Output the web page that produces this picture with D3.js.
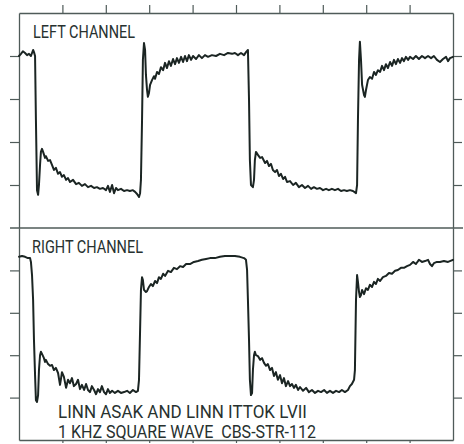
<!DOCTYPE html>
<html>
<head>
<meta charset="utf-8">
<script src="https://cdn.jsdelivr.net/npm/d3@7"></script>
<style>
  body { margin: 0; background: #fff; }
  svg { display: block; }
  text { white-space: pre; }
</style>
</head>
<body>
<div id="chart"></div>
<script>
// time in microseconds (200 us / division), amplitude in divisions from panel centre
const leftTime = [0, 9, 18, 28, 37, 46, 55, 60, 65, 69, 74, 78, 83, 88, 92, 97, 101, 106, 111, 120, 124, 134, 143, 152, 161, 170, 180, 189, 198, 207, 217, 226, 235, 249, 263, 276, 290, 304, 318, 332, 346, 359, 373, 387, 401, 410, 419, 429, 438, 447, 456, 470, 484, 498, 511, 525, 535, 544, 553, 558, 562, 567, 571, 576, 581, 585, 590, 594, 599, 604, 613, 622, 627, 636, 645, 654, 664, 673, 682, 691, 700, 710, 719, 728, 737, 747, 756, 765, 774, 783, 793, 802, 816, 829, 843, 857, 871, 889, 908, 926, 945, 963, 982, 995, 1009, 1023, 1037, 1046, 1055, 1060, 1064, 1069, 1078, 1083, 1087, 1092, 1101, 1111, 1120, 1134, 1143, 1152, 1161, 1170, 1180, 1189, 1198, 1207, 1217, 1226, 1235, 1249, 1263, 1276, 1290, 1304, 1318, 1332, 1346, 1359, 1373, 1387, 1401, 1415, 1428, 1442, 1456, 1470, 1484, 1498, 1511, 1525, 1539, 1553, 1558, 1562, 1567, 1571, 1576, 1581, 1590, 1594, 1599, 1608, 1617, 1627, 1636, 1645, 1654, 1664, 1673, 1682, 1691, 1700, 1710, 1719, 1728, 1737, 1746, 1756, 1765, 1774, 1783, 1793, 1802, 1816, 1829, 1843, 1857, 1871, 1885, 1899, 1912, 1926, 1940, 1954, 1968, 1977, 1986, 2000];
const leftVolts = [1.50, 1.55, 1.61, 1.57, 1.52, 1.55, 1.50, 1.57, 1.64, 1.59, 1.50, 0.01, -1.62, -1.73, -1.50, -1.03, -0.73, -0.66, -0.73, -0.87, -0.83, -0.94, -0.92, -1.03, -1.15, -1.10, -1.24, -1.20, -1.31, -1.27, -1.38, -1.34, -1.43, -1.38, -1.48, -1.45, -1.52, -1.48, -1.55, -1.52, -1.57, -1.55, -1.59, -1.57, -1.62, -1.52, -1.66, -1.50, -1.69, -1.57, -1.62, -1.59, -1.64, -1.62, -1.64, -1.62, -1.66, -1.71, -1.78, -1.69, -1.38, 0.01, 1.41, 1.80, 1.64, 1.06, 0.71, 0.55, 0.64, 0.83, 0.94, 1.03, 0.97, 1.13, 1.08, 1.24, 1.17, 1.34, 1.22, 1.38, 1.27, 1.43, 1.31, 1.45, 1.34, 1.48, 1.36, 1.50, 1.38, 1.52, 1.41, 1.50, 1.43, 1.52, 1.45, 1.52, 1.48, 1.52, 1.50, 1.55, 1.52, 1.57, 1.55, 1.57, 1.52, 1.57, 1.52, 1.59, 1.64, 0.48, -0.92, -1.50, -1.55, -1.38, -0.92, -0.73, -0.80, -0.87, -0.85, -0.99, -0.94, -1.06, -1.01, -1.15, -1.20, -1.15, -1.29, -1.24, -1.36, -1.31, -1.43, -1.41, -1.50, -1.45, -1.55, -1.50, -1.57, -1.52, -1.59, -1.55, -1.59, -1.57, -1.62, -1.59, -1.62, -1.59, -1.62, -1.59, -1.64, -1.62, -1.64, -1.62, -1.64, -1.69, -1.50, 0.01, 1.41, 1.83, 1.41, 0.83, 0.59, 0.55, 0.71, 0.94, 1.01, 0.97, 1.13, 1.06, 1.17, 1.13, 1.27, 1.17, 1.31, 1.22, 1.36, 1.27, 1.41, 1.31, 1.43, 1.34, 1.45, 1.38, 1.48, 1.41, 1.48, 1.43, 1.50, 1.43, 1.50, 1.45, 1.50, 1.45, 1.50, 1.41, 1.36, 1.43, 1.48, 1.38, 1.45, 1.48];

const rightTime = [0, 14, 28, 41, 51, 55, 60, 65, 69, 74, 78, 83, 88, 92, 97, 101, 106, 115, 120, 124, 134, 143, 152, 161, 170, 180, 189, 194, 198, 207, 217, 226, 235, 244, 253, 263, 272, 281, 290, 300, 309, 318, 327, 336, 346, 355, 364, 373, 382, 392, 401, 410, 419, 429, 442, 456, 470, 484, 498, 511, 525, 539, 548, 553, 558, 562, 567, 571, 576, 585, 590, 599, 608, 617, 627, 636, 645, 654, 664, 673, 687, 700, 714, 728, 742, 756, 770, 788, 806, 825, 843, 862, 880, 903, 926, 949, 972, 995, 1018, 1037, 1046, 1051, 1055, 1060, 1064, 1069, 1074, 1078, 1083, 1087, 1092, 1101, 1111, 1120, 1129, 1138, 1147, 1157, 1166, 1175, 1184, 1193, 1203, 1212, 1221, 1230, 1240, 1249, 1258, 1267, 1276, 1286, 1295, 1309, 1323, 1336, 1350, 1364, 1378, 1392, 1406, 1419, 1433, 1447, 1461, 1475, 1488, 1502, 1516, 1525, 1534, 1544, 1548, 1553, 1558, 1562, 1567, 1571, 1576, 1581, 1590, 1599, 1608, 1617, 1627, 1636, 1645, 1654, 1664, 1677, 1691, 1705, 1719, 1733, 1746, 1760, 1774, 1788, 1802, 1816, 1829, 1843, 1857, 1871, 1885, 1894, 1903, 1912, 1926, 1940, 1958, 1977, 2000];
const rightVolts = [1.82, 1.84, 1.82, 1.79, 1.79, 1.70, 1.39, 0.80, -0.14, -0.97, -1.56, -1.60, -1.44, -0.85, -0.50, -0.42, -0.47, -0.57, -0.66, -0.61, -0.71, -0.75, -0.73, -0.85, -0.80, -0.92, -1.20, -1.04, -0.90, -1.01, -1.27, -1.08, -1.16, -1.04, -1.23, -1.18, -1.08, -1.30, -1.20, -1.32, -1.18, -1.32, -1.37, -1.23, -1.32, -1.42, -1.30, -1.37, -1.23, -1.37, -1.42, -1.30, -1.39, -1.34, -1.39, -1.34, -1.39, -1.37, -1.34, -1.39, -1.32, -1.37, -1.34, -1.08, 0.09, 1.04, 1.34, 1.27, 1.04, 0.99, 1.01, 1.11, 1.18, 1.13, 1.25, 1.20, 1.34, 1.30, 1.42, 1.37, 1.49, 1.46, 1.56, 1.53, 1.60, 1.58, 1.65, 1.65, 1.70, 1.72, 1.75, 1.77, 1.79, 1.79, 1.82, 1.84, 1.84, 1.84, 1.82, 1.79, 1.75, 1.51, 0.80, -0.14, -1.08, -1.44, -1.39, -0.85, -0.50, -0.42, -0.50, -0.52, -0.61, -0.57, -0.68, -0.75, -0.71, -0.85, -0.80, -0.99, -0.90, -1.08, -0.97, -1.16, -1.04, -1.23, -1.11, -1.23, -1.18, -1.27, -1.20, -1.32, -1.25, -1.34, -1.27, -1.37, -1.32, -1.39, -1.34, -1.37, -1.32, -1.39, -1.34, -1.39, -1.34, -1.37, -1.32, -1.37, -1.32, -1.23, -1.18, -1.08, -0.85, 0.80, 1.39, 1.23, 0.99, 0.87, 0.92, 1.04, 0.94, 1.08, 1.04, 1.16, 1.11, 1.23, 1.18, 1.30, 1.25, 1.34, 1.37, 1.44, 1.42, 1.49, 1.51, 1.56, 1.56, 1.60, 1.63, 1.70, 1.65, 1.75, 1.70, 1.72, 1.75, 1.65, 1.60, 1.67, 1.70, 1.70, 1.72, 1.70, 1.75];

const timeTicks = [200, 400, 600, 800, 1000, 1200, 1400, 1600, 1800];
const voltTicks = [-1.5, -0.5, 0.5, 1.5];
const panelLabels = ["LEFT CHANNEL", "RIGHT CHANNEL"];
const captionLines = ["LINN ASAK AND LINN ITTOK LVII", "1 KHZ SQUARE WAVE  CBS-STR-112"];

const width = 464, height = 444;
const frameColor = "#4f5b59";
const traceColor = "#1b2523";
const textColor = "#27312f";

const svg = d3.select("#chart").append("svg")
  .attr("width", width)
  .attr("height", height);

const x = d3.scaleLinear().domain([0, 2000]).range([19, 453]);
const yLeft = d3.scaleLinear().domain([-2.5, 2.5]).range([228, 13]);
const yRight = d3.scaleLinear().domain([-2.5, 2.5]).range([440, 228]);

const styleAxis = g => {
  g.select(".domain").attr("stroke", frameColor).attr("stroke-width", 1.3);
  g.selectAll(".tick line").attr("stroke", frameColor).attr("stroke-width", 1.2);
};

// top edge ticks
svg.append("g")
  .attr("transform", `translate(0,${yLeft(2.5)})`)
  .call(d3.axisTop(x).tickValues(timeTicks).tickSize(8).tickSizeOuter(0).tickFormat(""))
  .call(styleAxis);

// bottom edge with small ticks
svg.append("g")
  .attr("transform", `translate(0,${yRight(-2.5)})`)
  .call(d3.axisBottom(x).tickValues(timeTicks).tickSize(3).tickSizeOuter(0).tickFormat(""))
  .call(styleAxis);

// side ticks for both panels
[yLeft, yRight].forEach(y => {
  svg.append("g")
    .attr("transform", `translate(${x(0)},0)`)
    .call(d3.axisLeft(y).tickValues(voltTicks).tickSize(9).tickSizeOuter(0).tickFormat(""))
    .call(styleAxis);
  svg.append("g")
    .attr("transform", `translate(${x(2000)},0)`)
    .call(d3.axisRight(y).tickValues(voltTicks).tickSize(9).tickSizeOuter(0).tickFormat(""))
    .call(styleAxis);
});

// divider between the two channels
svg.append("line")
  .attr("x1", x(0) - 9).attr("x2", x(2000) + 10)
  .attr("y1", yLeft(-2.5)).attr("y2", yLeft(-2.5))
  .attr("stroke", frameColor).attr("stroke-width", 1.4);

// traces
const traces = [
  { t: leftTime, v: leftVolts, y: yLeft },
  { t: rightTime, v: rightVolts, y: yRight }
];

traces.forEach(tr => {
  const pts = tr.t.map((t, i) => [t, tr.v[i]]);
  const line = d3.line().x(d => x(d[0])).y(d => tr.y(d[1]));
  svg.append("path")
    .datum(pts)
    .attr("d", line)
    .attr("fill", "none")
    .attr("stroke", traceColor)
    .attr("stroke-width", 2)
    .attr("stroke-linejoin", "round")
    .attr("stroke-linecap", "round");
});

// labels
const textStyle = sel => sel
  .attr("font-family", "Roboto, 'Liberation Sans', sans-serif")
  .attr("font-weight", 400)
  .attr("font-size", 18.5)
  .attr("fill", textColor)
  .attr("lengthAdjust", "spacingAndGlyphs");

svg.append("text").text(panelLabels[0])
  .attr("x", 33).attr("y", 38).attr("textLength", 102).call(textStyle);
svg.append("text").text(panelLabels[1])
  .attr("x", 32).attr("y", 253).attr("textLength", 111).call(textStyle);
svg.append("text").text(captionLines[0])
  .attr("x", 58).attr("y", 418).attr("textLength", 249).call(textStyle);
svg.append("text").text(captionLines[1])
  .attr("x", 58).attr("y", 438).attr("textLength", 258).call(textStyle);
</script>
</body>
</html>
